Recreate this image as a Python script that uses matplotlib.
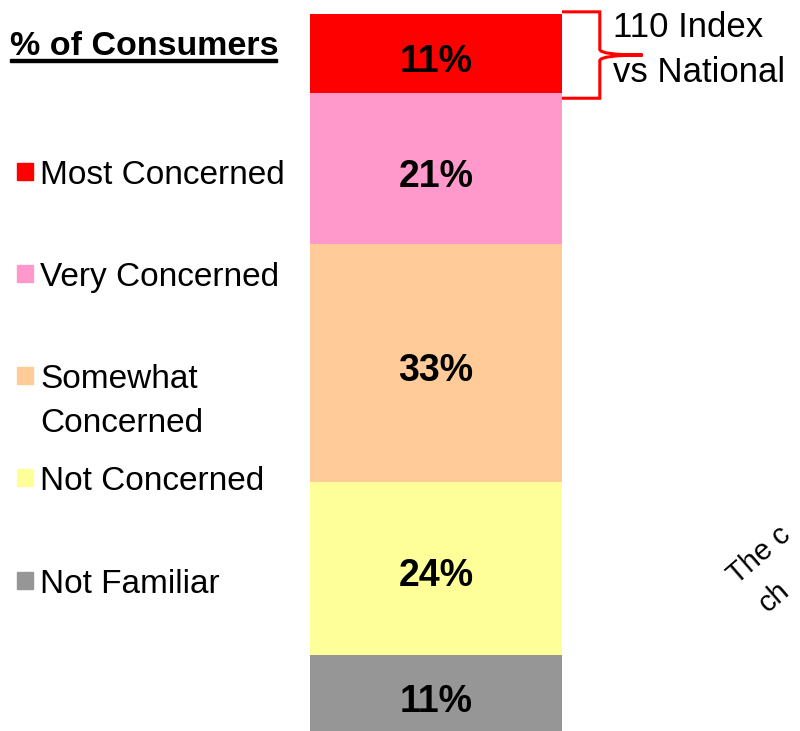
import matplotlib
matplotlib.use("Agg")
import matplotlib.pyplot as plt
from matplotlib.path import Path
from matplotlib.patches import PathPatch, Rectangle
import matplotlib.transforms as mtransforms

plt.rcParams["font.family"] = ["Liberation Sans", "DejaVu Sans"]

# stacked from the bottom up
segments = ["Not Familiar", "Not Concerned", "Somewhat Concerned", "Very Concerned", "Most Concerned"]
values = [11, 24, 33, 21, 11]
colors = ["#969696", "#FFFF99", "#FFCC99", "#FF99CC", "#FF0000"]

legend_labels = ["Most Concerned", "Very Concerned", "Somewhat\nConcerned", "Not Concerned", "Not Familiar"]
legend_colors = ["#FF0000", "#FF99CC", "#FFCC99", "#FFFF99", "#969696"]
legend_base = [184, 286, 388, 490, 593]  # pixel baselines of legend entries

W, H = 800, 731
fig = plt.figure(figsize=(W / 100, H / 100), dpi=100)


def fy(py):
    # pixel row from the top -> figure fraction
    return 1 - py / H


ax = fig.add_axes([310 / W, fy(734), 252 / W, (734 - 14) / H])
bottom = 0
for name, v, c in zip(segments, values, colors):
    ax.bar(0, v, width=1.0, bottom=bottom, color=c, edgecolor="none")
    ax.annotate(f"{v}%", xy=(0, bottom + v / 2), xytext=(0, -13),
                textcoords="offset points", ha="center", va="baseline",
                fontsize=27, fontweight="bold", color="black")
    bottom += v
ax.set_xlim(-0.5, 0.5)
ax.set_ylim(0, 100)
ax.axis("off")

# title
fig.text(10 / W, fy(55), "% of Consumers", fontsize=24.5, fontweight="bold",
         ha="left", va="baseline")
fig.add_artist(Rectangle((10 / W, fy(62)), 267 / W, 3 / H,
                         transform=fig.transFigure, color="black"))

# legend
for lab, c, base in zip(legend_labels, legend_colors, legend_base):
    fig.add_artist(Rectangle((17 / W, fy(base - 4)), 16 / W, 17 / H,
                             transform=fig.transFigure, color=c))
    for i, line in enumerate(lab.split("\n")):
        fig.text(40 / W, fy(base + 44 * i), line, fontsize=24,
                 ha="left", va="baseline")

# brace around the top segment
trans = mtransforms.blended_transform_factory(ax.transAxes, ax.transData)
top = sum(values) + 0.3
low = sum(values) - values[-1] - 0.7
mid = (top + low) / 2
x0, x1, xt = 1.0, 1.15, 1.32
verts = [(x0, top), (x1, top), (x1, top), (x1, top - 1.2),
         (x1, mid + 0.8), (x1, mid), (xt, mid),
         (x1, mid), (x1, mid - 0.8), (x1, low + 1.2),
         (x1, low), (x1, low), (x0, low)]
codes = [Path.MOVETO, Path.LINETO, Path.CURVE3, Path.CURVE3,
         Path.LINETO, Path.CURVE3, Path.CURVE3,
         Path.CURVE3, Path.CURVE3, Path.LINETO,
         Path.CURVE3, Path.CURVE3, Path.LINETO]
ax.add_patch(PathPatch(Path(verts, codes), transform=trans, fill=False,
                       edgecolor="#FF0000", lw=2.2, clip_on=False))
fig.text(613 / W, fy(37), "110 Index", fontsize=25, ha="left", va="baseline")
fig.text(613 / W, fy(82), "vs National", fontsize=25, ha="left", va="baseline")

# rotated note at the right edge
fig.text(737 / W, fy(585), "The c", fontsize=21, rotation=41,
         rotation_mode="anchor", ha="left", va="baseline")
fig.text(768 / W, fy(613), "ch", fontsize=21, rotation=41,
         rotation_mode="anchor", ha="left", va="baseline")

fig.savefig("out.png", dpi=100)
